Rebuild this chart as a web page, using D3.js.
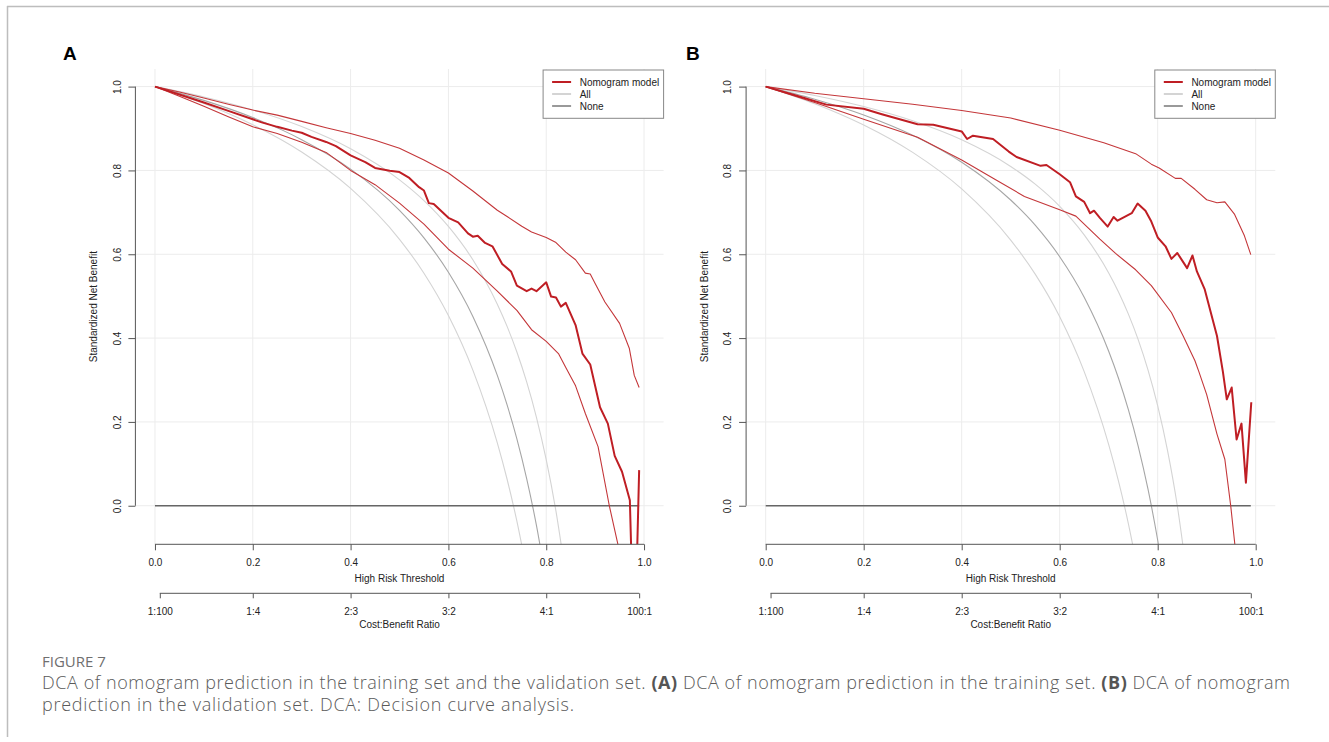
<!DOCTYPE html>
<html><head><meta charset="utf-8">
<script src="https://cdn.jsdelivr.net/npm/d3@7"></script>
<style>
html,body{margin:0;padding:0;background:#fff;}
svg{display:block;}
</style></head>
<body>
<svg id="chart" width="1329" height="742"></svg>
<script>
// ---------------- DATA ----------------
const thresholdTicks = [0, 0.2, 0.4, 0.6, 0.8, 1.0];
const netBenefitTicks = [0, 0.2, 0.4, 0.6, 0.8, 1.0];
const costBenefitLabels = ["1:100", "1:4", "2:3", "3:2", "4:1", "100:1"];
const costBenefitAt = [0.0099, 0.2, 0.4, 0.6, 0.8, 0.99];
const legendLabels = ["Nomogram model", "All", "None"];
const noneLine = [[0, 0], [0.99, 0]];

// Panel A (training set)
const A_model = [[0,1],[0.05,0.981],[0.1,0.962],[0.15,0.942],[0.2,0.922],[0.22,0.914],[0.25,0.904],[0.28,0.895],[0.3,0.890],[0.32,0.880],[0.35,0.868],[0.37,0.858],[0.4,0.836],[0.43,0.820],[0.45,0.806],[0.48,0.799],[0.5,0.796],[0.52,0.782],[0.54,0.760],[0.55,0.752],[0.56,0.722],[0.57,0.720],[0.6,0.687],[0.62,0.676],[0.64,0.650],[0.65,0.642],[0.66,0.644],[0.675,0.627],[0.69,0.619],[0.71,0.577],[0.728,0.559],[0.74,0.525],[0.76,0.512],[0.77,0.518],[0.78,0.512],[0.8,0.533],[0.81,0.499],[0.82,0.497],[0.83,0.475],[0.84,0.484],[0.86,0.431],[0.874,0.363],[0.89,0.337],[0.91,0.235],[0.926,0.196],[0.94,0.119],[0.955,0.081],[0.971,0.013],[0.976,-0.2],[0.984,-0.2],[0.99,0.085]];
const A_upper = [[0,1],[0.05,0.987],[0.1,0.973],[0.15,0.958],[0.2,0.944],[0.25,0.932],[0.3,0.917],[0.35,0.902],[0.4,0.888],[0.45,0.872],[0.5,0.853],[0.55,0.825],[0.6,0.794],[0.65,0.751],[0.7,0.705],[0.72,0.690],[0.75,0.667],[0.77,0.653],[0.8,0.640],[0.82,0.628],[0.84,0.605],[0.86,0.587],[0.88,0.555],[0.89,0.553],[0.9,0.530],[0.92,0.486],[0.95,0.435],[0.97,0.375],[0.98,0.311],[0.99,0.282]];
const A_lower = [[0,1],[0.05,0.977],[0.1,0.953],[0.15,0.928],[0.2,0.904],[0.25,0.888],[0.3,0.867],[0.35,0.843],[0.4,0.800],[0.45,0.766],[0.5,0.722],[0.55,0.672],[0.6,0.612],[0.65,0.567],[0.7,0.512],[0.74,0.466],[0.77,0.420],[0.8,0.392],[0.825,0.363],[0.84,0.330],[0.86,0.286],[0.88,0.220],[0.906,0.141],[0.929,0.0],[0.95,-0.11]];
const A_all = [[0,1],[0.1,0.9672],[0.2,0.9262],[0.3,0.8734],[0.4,0.8031],[0.5,0.7047],[0.55,0.6391],[0.6,0.5570],[0.65,0.4516],[0.7,0.3109],[0.72,0.2406],[0.74,0.1595],[0.76,0.0648],[0.78,-0.0470],[0.8,-0.1812]];
const A_allLow = [[0,1],[0.1,0.9595],[0.2,0.9089],[0.3,0.8439],[0.4,0.7571],[0.5,0.6357],[0.55,0.5547],[0.6,0.4536],[0.65,0.3235],[0.7,0.150],[0.72,0.0632],[0.74,-0.0369],[0.76,-0.1536]];
const A_allHigh = [[0,1],[0.1,0.9753],[0.2,0.9444],[0.3,0.9046],[0.4,0.8517],[0.5,0.7775],[0.55,0.7281],[0.6,0.6663],[0.65,0.5868],[0.7,0.4808],[0.72,0.4279],[0.74,0.3667],[0.76,0.2954],[0.78,0.2111],[0.8,0.1100],[0.82,-0.0136],[0.84,-0.1681]];

// Panel B (validation set)
const B_model = [[0,1],[0.067,0.977],[0.124,0.957],[0.2,0.947],[0.237,0.934],[0.31,0.910],[0.342,0.909],[0.4,0.893],[0.411,0.875],[0.423,0.883],[0.464,0.875],[0.496,0.845],[0.512,0.832],[0.561,0.811],[0.573,0.813],[0.6,0.791],[0.621,0.772],[0.633,0.738],[0.65,0.725],[0.662,0.698],[0.67,0.704],[0.682,0.687],[0.698,0.666],[0.71,0.689],[0.718,0.680],[0.747,0.698],[0.759,0.721],[0.775,0.704],[0.787,0.678],[0.8,0.640],[0.816,0.619],[0.828,0.589],[0.84,0.603],[0.86,0.567],[0.871,0.597],[0.88,0.559],[0.896,0.516],[0.921,0.405],[0.933,0.320],[0.941,0.254],[0.951,0.282],[0.961,0.158],[0.971,0.196],[0.98,0.055],[0.991,0.247]];
const B_upper = [[0,1],[0.1,0.984],[0.2,0.971],[0.3,0.958],[0.4,0.943],[0.5,0.925],[0.6,0.896],[0.69,0.866],[0.755,0.840],[0.787,0.815],[0.803,0.806],[0.836,0.781],[0.848,0.781],[0.876,0.755],[0.9,0.730],[0.921,0.723],[0.937,0.725],[0.957,0.695],[0.977,0.644],[0.99,0.599]];
const B_lower = [[0,1],[0.1,0.962],[0.2,0.922],[0.31,0.879],[0.4,0.825],[0.472,0.776],[0.528,0.738],[0.6,0.706],[0.633,0.691],[0.682,0.636],[0.714,0.602],[0.755,0.563],[0.787,0.525],[0.828,0.461],[0.852,0.405],[0.876,0.346],[0.884,0.320],[0.9,0.265],[0.921,0.171],[0.937,0.111],[0.949,0.0],[0.96,-0.12]];
const B_all = [[0,1],[0.1,0.9699],[0.2,0.9323],[0.3,0.8840],[0.4,0.8196],[0.5,0.7294],[0.55,0.6693],[0.6,0.5941],[0.65,0.4975],[0.7,0.3686],[0.72,0.3042],[0.74,0.2298],[0.76,0.1431],[0.78,0.0406],[0.8,-0.0824],[0.82,-0.2328]];
const B_allLow = [[0,1],[0.1,0.9593],[0.2,0.9085],[0.3,0.8431],[0.4,0.7559],[0.5,0.6339],[0.55,0.5525],[0.6,0.4509],[0.65,0.3201],[0.7,0.1458],[0.72,0.0586],[0.74,-0.0420],[0.76,-0.1593]];
const B_allHigh = [[0,1],[0.1,0.9788],[0.2,0.9524],[0.3,0.9184],[0.4,0.8730],[0.5,0.8095],[0.55,0.7672],[0.6,0.7143],[0.65,0.6462],[0.7,0.5555],[0.72,0.5102],[0.74,0.4578],[0.76,0.3968],[0.78,0.3246],[0.8,0.2381],[0.82,0.1322],[0.84,0.0],[0.86,-0.1702]];

// ---------------- DRAW ----------------
const svg = d3.select("#chart");
const FONT = "'Liberation Sans', Arial, Helvetica, sans-serif";
const RED = "#bf1e24", RED_CI = "#c4373a", GREY_LIGHT = "#d4d4d4", GREY_MID = "#a6a6a6", AXIS = "#555";

svg.append("rect").attr("width",1329).attr("height",742).attr("fill","#fff");
// figure frame
svg.append("line").attr("x1",7).attr("x2",1329).attr("y1",6.5).attr("y2",6.5).attr("stroke","#bdbdbd").attr("stroke-width",1.5);
svg.append("line").attr("x1",7.5).attr("x2",7.5).attr("y1",6).attr("y2",737).attr("stroke","#bdbdbd").attr("stroke-width",1.5);

const panels = [
  {id:"A", left:135.4, right:663.6, labelX:63, model:A_model, upper:A_upper, lower:A_lower, all:A_all, allLow:A_allLow, allHigh:A_allHigh},
  {id:"B", left:746.1, right:1275.3, labelX:686, model:B_model, upper:B_upper, lower:B_lower, all:B_all, allLow:B_allLow, allHigh:B_allHigh}
];
const TOP = 69, BOTTOM = 544.3;

panels.forEach(p => {
  const x = d3.scaleLinear().domain([-0.04, 1.04]).range([p.left, p.right]);
  const y = d3.scaleLinear().domain([-0.092, 1.042]).range([BOTTOM, TOP]);
  const g = svg.append("g");
  const clipId = "clip" + p.id;
  svg.append("defs").append("clipPath").attr("id", clipId)
    .append("rect").attr("x", p.left).attr("y", TOP).attr("width", p.right - p.left).attr("height", BOTTOM - TOP);

  // panel letter
  g.append("text").attr("x", p.labelX).attr("y", 60).attr("font-family", FONT).attr("font-weight","bold")
    .attr("font-size", 19).attr("fill","#000").text(p.id);

  // grid
  g.selectAll(".vg").data(thresholdTicks).join("line")
    .attr("x1", d => x(d)).attr("x2", d => x(d)).attr("y1", TOP).attr("y2", BOTTOM)
    .attr("stroke", "#ececec").attr("stroke-width", 1);
  g.selectAll(".hg").data(netBenefitTicks).join("line")
    .attr("x1", p.left).attr("x2", p.right).attr("y1", d => y(d)).attr("y2", d => y(d))
    .attr("stroke", "#ececec").attr("stroke-width", 1);

  const line = d3.line().x(d => x(d[0])).y(d => y(d[1]));
  const smooth = d3.line().x(d => x(d[0])).y(d => y(d[1])).curve(d3.curveMonotoneX);
  const plot = g.append("g").attr("clip-path", `url(#${clipId})`);

  [p.allLow, p.allHigh].forEach(s => plot.append("path").attr("d", smooth(s)).attr("fill","none").attr("stroke", GREY_LIGHT).attr("stroke-width", 1.1));
  plot.append("path").attr("d", smooth(p.all)).attr("fill","none").attr("stroke", GREY_MID).attr("stroke-width", 1.1);
  plot.append("path").attr("d", line(noneLine)).attr("fill","none").attr("stroke", "#666").attr("stroke-width", 1.6);
  [p.upper, p.lower].forEach(s => plot.append("path").attr("d", line(s)).attr("fill","none").attr("stroke", RED_CI).attr("stroke-width", 1.1).attr("stroke-linejoin","round"));
  plot.append("path").attr("d", line(p.model)).attr("fill","none").attr("stroke", RED).attr("stroke-width", 2).attr("stroke-linejoin","round");

  // x axis (threshold)
  const xa = g.append("g").attr("transform", `translate(0,${BOTTOM})`)
    .call(d3.axisBottom(x).tickValues(thresholdTicks).tickFormat(d3.format(".1f")).tickSize(6).tickSizeOuter(0));
  xa.select(".domain").attr("d", `M${x(0)},0H${x(1)}`);
  xa.selectAll("text").attr("y", 22).attr("dy", null);

  // cost:benefit axis
  const ca = g.append("g").attr("transform", `translate(0,593.3)`)
    .call(d3.axisBottom(x).tickValues(costBenefitAt).tickFormat((d,i) => costBenefitLabels[i]).tickSize(5).tickSizeOuter(0));
  ca.select(".domain").attr("d", `M${x(costBenefitAt[0])},0H${x(costBenefitAt[costBenefitAt.length-1])}`);
  ca.selectAll("text").attr("y", 21.3).attr("dy", null);

  // y axis
  const ya = g.append("g").attr("transform", `translate(${p.left},0)`)
    .call(d3.axisLeft(y).tickValues(netBenefitTicks).tickFormat(d3.format(".1f")).tickSize(7).tickSizeOuter(0));
  ya.select(".domain").attr("d", `M0,${y(0)}V${y(1)}`);
  ya.selectAll("text").attr("x", null).attr("dy", null).attr("text-anchor","middle")
    .attr("transform", "translate(-14.8,0) rotate(-90)");

  [xa, ca, ya].forEach(a => {
    a.selectAll("path,line").attr("stroke", AXIS);
    a.selectAll("text").attr("font-family", FONT).attr("font-size", 10).attr("fill", "#222");
  });

  const mid = (p.left + p.right) / 2;
  g.append("text").attr("x", mid).attr("y", 581.5).attr("text-anchor","middle").attr("font-family", FONT).attr("font-size", 10).attr("fill","#222").text("High Risk Threshold");
  g.append("text").attr("x", mid).attr("y", 627.8).attr("text-anchor","middle").attr("font-family", FONT).attr("font-size", 10).attr("fill","#222").text("Cost:Benefit Ratio");
  g.append("text").attr("transform", `translate(${p.left - 38.5},${(TOP + BOTTOM) / 2}) rotate(-90)`).attr("text-anchor","middle")
    .attr("font-family", FONT).attr("font-size", 10).attr("fill","#222").text("Standardized Net Benefit");

  // legend
  const lw = 120.5, lh = 48.3, lx = p.right - lw, ly = TOP + 1;
  const lg = g.append("g").attr("transform", `translate(${lx},${ly})`);
  lg.append("rect").attr("width", lw).attr("height", lh).attr("fill","#fff").attr("stroke","#888").attr("stroke-width",1);
  const lcol = [RED, GREY_LIGHT, "#999"];
  legendLabels.forEach((t, i) => {
    const cy = 12 + i * 12;
    lg.append("line").attr("x1", 9).attr("x2", 28).attr("y1", cy).attr("y2", cy).attr("stroke", lcol[i]).attr("stroke-width", 2);
    lg.append("text").attr("x", 36.6).attr("y", cy + 3.6).attr("font-family", FONT).attr("font-size", 10).attr("fill","#222").text(t);
  });
});

// caption
const CAP = "'Open Sans', 'Noto Sans', sans-serif";
svg.append("text").attr("x", 42).attr("y", 666.7).attr("font-family", CAP).attr("font-size", 15).attr("fill", "#6f6f6f").attr("font-weight", 500).text("FIGURE 7");
const c1 = svg.append("text").attr("x", 42).attr("y", 688.5).attr("font-family", CAP).attr("font-size", 18).attr("fill", "#5a5a5a").attr("font-weight", 300)
  .attr("textLength", 1248).attr("lengthAdjust", "spacing");
c1.append("tspan").text("DCA of nomogram prediction in the training set and the validation set. ");
c1.append("tspan").attr("font-weight", 700).attr("fill","#555").text("(A)");
c1.append("tspan").text(" DCA of nomogram prediction in the training set. ");
c1.append("tspan").attr("font-weight", 700).attr("fill","#555").text("(B)");
c1.append("tspan").text(" DCA of nomogram");
svg.append("text").attr("x", 42).attr("y", 710.5).attr("font-family", CAP).attr("font-size", 18).attr("fill", "#5a5a5a").attr("font-weight", 300)
  .attr("textLength", 532).attr("lengthAdjust", "spacing")
  .text("prediction in the validation set. DCA: Decision curve analysis.");
</script>
</body></html>
